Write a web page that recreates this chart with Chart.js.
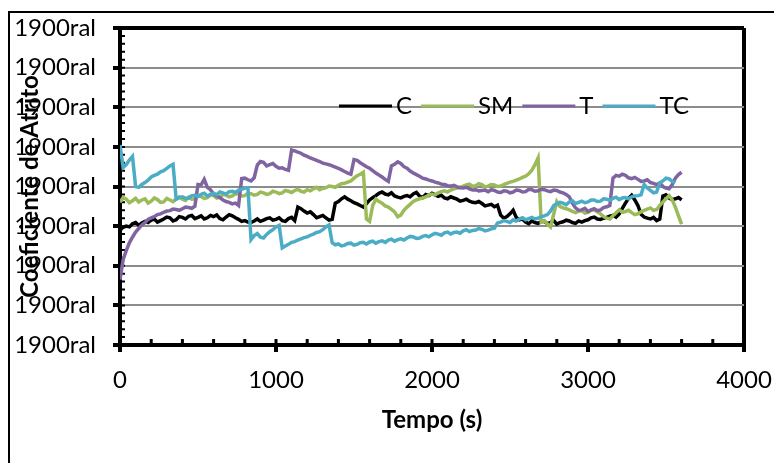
<!DOCTYPE html>
<html lang="pt">
<head>
<meta charset="UTF-8">
<title>Coeficiente de Atrito x Tempo</title>
<script src="https://cdn.jsdelivr.net/npm/chart.js"></script>
<style>
html, body { margin: 0; background: #fff; overflow: hidden; width: 774px; height: 463px; }
.moldura { position: absolute; left: 8px; top: 11px; width: 820px; height: 520px; border: 2px solid #000; box-sizing: border-box; }
#grafico { position: absolute; left: 0; top: 0; }
</style>
</head>
<body>
<div class="moldura"></div>
<canvas id="grafico" width="774" height="463"></canvas>
<script>
// tempo (s) das leituras, a cada 20 s
const tempo = [0,20,40,60,80,100,120,140,160,180,200,220,240,260,280,300,320,340,360,380,
  400,420,440,460,480,500,520,540,560,580,600,620,640,660,680,700,720,740,760,780,
  800,820,840,860,880,900,920,940,960,980,1000,1020,1040,1060,1080,1100,1120,1140,1160,1180,
  1200,1220,1240,1260,1280,1300,1320,1340,1360,1380,1400,1420,1440,1460,1480,1500,1520,1540,1560,1580,
  1600,1620,1640,1660,1680,1700,1720,1740,1760,1780,1800,1820,1840,1860,1880,1900,1920,1940,1960,1980,
  2000,2020,2040,2060,2080,2100,2120,2140,2160,2180,2200,2220,2240,2260,2280,2300,2320,2340,2360,2380,
  2400,2420,2440,2460,2480,2500,2520,2540,2560,2580,2600,2620,2640,2660,2680,2700,2720,2740,2760,2780,
  2800,2820,2840,2860,2880,2900,2920,2940,2960,2980,3000,3020,3040,3060,3080,3100,3120,3140,3160,3180,
  3200,3220,3240,3260,3280,3300,3320,3340,3360,3380,3400,3420,3440,3460,3480,3500,3520,3540,3560,3580,
  3600];

const serieC = [0.290,0.297,0.300,0.298,0.306,0.309,0.302,0.308,0.312,0.309,0.315,0.318,0.310,0.314,0.318,0.323,0.321,0.313,0.316,0.324,
  0.322,0.318,0.325,0.327,0.319,0.322,0.326,0.318,0.321,0.327,0.324,0.328,0.319,0.316,0.323,0.329,0.326,0.321,0.317,0.312,
  0.314,0.310,0.309,0.313,0.318,0.312,0.315,0.319,0.321,0.315,0.317,0.321,0.314,0.312,0.319,0.322,0.314,0.348,0.344,0.338,
  0.333,0.336,0.329,0.321,0.324,0.327,0.321,0.315,0.317,0.358,0.362,0.369,0.374,0.368,0.364,0.359,0.356,0.352,0.348,0.357,
  0.366,0.372,0.377,0.383,0.386,0.381,0.379,0.384,0.376,0.373,0.371,0.375,0.377,0.374,0.381,0.385,0.376,0.372,0.380,0.377,
  0.383,0.379,0.375,0.378,0.371,0.369,0.374,0.371,0.368,0.363,0.365,0.368,0.363,0.360,0.359,0.362,0.357,0.351,0.353,0.355,
  0.349,0.353,0.328,0.320,0.324,0.331,0.340,0.322,0.316,0.318,0.310,0.306,0.313,0.309,0.307,0.311,0.312,0.306,0.309,0.314,
  0.305,0.309,0.311,0.315,0.313,0.309,0.307,0.313,0.310,0.314,0.316,0.321,0.323,0.318,0.317,0.320,0.322,0.325,0.327,0.323,
  0.331,0.345,0.358,0.370,0.378,0.366,0.352,0.330,0.323,0.320,0.318,0.322,0.314,0.318,0.376,0.379,0.371,0.367,0.369,0.372,
  0.366];

const serieSM = [0.360,0.372,0.368,0.359,0.364,0.370,0.361,0.366,0.369,0.358,0.363,0.371,0.367,0.360,0.361,0.370,0.366,0.362,0.369,0.374,
  0.368,0.365,0.373,0.368,0.369,0.376,0.375,0.370,0.372,0.379,0.377,0.371,0.373,0.380,0.378,0.374,0.376,0.382,0.380,0.376,
  0.377,0.383,0.382,0.378,0.380,0.386,0.384,0.380,0.382,0.388,0.386,0.382,0.384,0.390,0.388,0.385,0.390,0.393,0.388,0.386,
  0.392,0.389,0.394,0.398,0.392,0.395,0.397,0.401,0.400,0.398,0.403,0.407,0.408,0.411,0.414,0.421,0.427,0.431,0.436,0.318,
  0.312,0.352,0.368,0.362,0.358,0.351,0.348,0.342,0.336,0.324,0.328,0.340,0.348,0.355,0.362,0.366,0.369,0.371,0.374,0.378,
  0.381,0.379,0.384,0.387,0.389,0.386,0.391,0.394,0.396,0.398,0.401,0.404,0.406,0.400,0.402,0.407,0.405,0.399,0.401,0.405,
  0.404,0.400,0.401,0.405,0.408,0.411,0.413,0.416,0.419,0.423,0.426,0.432,0.441,0.455,0.472,0.310,0.314,0.305,0.298,0.330,
  0.362,0.350,0.346,0.344,0.341,0.337,0.334,0.338,0.339,0.333,0.335,0.340,0.341,0.336,0.331,0.324,0.320,0.318,0.326,0.334,
  0.341,0.335,0.337,0.340,0.334,0.329,0.331,0.336,0.340,0.343,0.346,0.340,0.342,0.352,0.361,0.369,0.377,0.366,0.348,0.326,
  0.305];

const serieT = [0.165,0.215,0.238,0.258,0.272,0.285,0.294,0.303,0.309,0.317,0.321,0.324,0.329,0.331,0.335,0.338,0.339,0.343,0.342,0.340,
  0.344,0.348,0.347,0.345,0.350,0.405,0.404,0.418,0.398,0.392,0.381,0.376,0.372,0.366,0.362,0.360,0.356,0.358,0.352,0.420,
  0.421,0.417,0.414,0.422,0.454,0.463,0.461,0.452,0.455,0.458,0.451,0.446,0.447,0.443,0.441,0.492,0.490,0.487,0.484,0.479,
  0.476,0.472,0.469,0.466,0.463,0.459,0.457,0.455,0.452,0.449,0.446,0.442,0.438,0.434,0.431,0.468,0.466,0.460,0.455,0.450,
  0.446,0.440,0.434,0.429,0.424,0.418,0.413,0.452,0.456,0.462,0.458,0.450,0.446,0.439,0.434,0.430,0.426,0.421,0.419,0.416,
  0.414,0.411,0.409,0.406,0.405,0.402,0.401,0.403,0.399,0.397,0.396,0.398,0.394,0.391,0.392,0.389,0.390,0.391,0.387,0.392,
  0.390,0.386,0.385,0.389,0.388,0.384,0.386,0.391,0.390,0.386,0.387,0.393,0.392,0.388,0.389,0.393,0.392,0.389,0.387,0.391,
  0.390,0.386,0.384,0.380,0.374,0.358,0.346,0.340,0.341,0.345,0.337,0.341,0.344,0.339,0.341,0.347,0.349,0.352,0.421,0.428,
  0.426,0.431,0.428,0.422,0.420,0.423,0.418,0.413,0.414,0.417,0.410,0.408,0.405,0.409,0.400,0.396,0.394,0.405,0.421,0.430,
  0.436];

const serieTC = [0.505,0.448,0.455,0.467,0.476,0.400,0.398,0.405,0.410,0.416,0.424,0.428,0.431,0.437,0.440,0.446,0.452,0.456,0.368,0.372,
  0.374,0.370,0.371,0.377,0.378,0.375,0.380,0.383,0.376,0.380,0.383,0.379,0.386,0.384,0.381,0.387,0.388,0.385,0.391,0.393,
  0.396,0.397,0.266,0.276,0.281,0.272,0.270,0.279,0.286,0.291,0.298,0.302,0.245,0.250,0.254,0.259,0.261,0.265,0.268,0.271,
  0.273,0.277,0.280,0.284,0.286,0.291,0.298,0.303,0.258,0.253,0.255,0.250,0.252,0.256,0.257,0.252,0.254,0.258,0.259,0.255,
  0.260,0.262,0.257,0.261,0.263,0.259,0.265,0.267,0.262,0.266,0.268,0.265,0.270,0.274,0.273,0.269,0.270,0.274,0.276,0.273,
  0.278,0.282,0.280,0.277,0.283,0.285,0.280,0.284,0.285,0.282,0.288,0.291,0.286,0.289,0.290,0.294,0.292,0.288,0.290,0.293,
  0.295,0.308,0.310,0.314,0.312,0.309,0.316,0.313,0.318,0.321,0.316,0.319,0.322,0.318,0.320,0.324,0.326,0.329,0.338,0.352,
  0.356,0.360,0.358,0.354,0.361,0.364,0.357,0.360,0.363,0.359,0.361,0.366,0.366,0.362,0.363,0.369,0.368,0.365,0.370,0.373,
  0.367,0.371,0.372,0.369,0.374,0.376,0.377,0.379,0.405,0.396,0.390,0.384,0.386,0.409,0.414,0.421,0.419,0.413,0.410];

const rotuloY = '1900ral';

const series = [
  { nome: 'C', cor: '#000000', valores: serieC },
  { nome: 'SM', cor: '#9bbb59', valores: serieSM },
  { nome: 'T', cor: '#8064a2', valores: serieT },
  { nome: 'TC', cor: '#4bacc6', valores: serieTC }
];

const fonte = 'Lato, Carlito, Calibri, sans-serif';

// marcas secundarias dos eixos (lado de dentro)
const marcasMenores = {
  id: 'marcasMenores',
  beforeDatasetsDraw(chart) {
    const { ctx, chartArea: a, scales: { x, y } } = chart;
    ctx.save();
    ctx.strokeStyle = '#000';
    ctx.lineWidth = 3;
    ctx.beginPath();
    for (let v = 0; v <= 4000; v += 200) {
      const px = x.getPixelForValue(v);
      ctx.moveTo(px, a.bottom);
      ctx.lineTo(px, a.bottom - 6);
    }
    ctx.stroke();
    ctx.lineWidth = 2;
    ctx.beginPath();
    for (let k = 0; k <= 40; k++) {
      const py = y.getPixelForValue(k * 0.02);
      ctx.moveTo(a.left, py);
      ctx.lineTo(a.left + 5, py);
    }
    ctx.stroke();
    ctx.restore();
  }
};

// legenda desenhada dentro da area do grafico
const legendaInterna = {
  id: 'legendaInterna',
  afterDatasetsDraw(chart) {
    const { ctx, chartArea: a } = chart;
    const yLeg = a.top + 78;
    let xi = a.left + 219;
    ctx.save();
    ctx.font = '24px ' + fonte;
    ctx.textBaseline = 'middle';
    chart.data.datasets.forEach(ds => {
      ctx.strokeStyle = ds.borderColor;
      ctx.lineWidth = 3;
      ctx.beginPath();
      ctx.moveTo(xi, yLeg);
      ctx.lineTo(xi + 53, yLeg);
      ctx.stroke();
      ctx.fillStyle = '#000';
      ctx.fillText(ds.label, xi + 57, yLeg);
      xi += 57 + ctx.measureText(ds.label).width + 9;
    });
    ctx.restore();
  }
};

const topo = c => c.tick && Math.abs(c.tick.value - 0.8) < 1e-6;

function desenhar() {
  Chart.defaults.font.family = fonte;
  Chart.defaults.color = '#000';
  new Chart(document.getElementById('grafico'), {
    type: 'line',
    data: {
      datasets: series.map((s, i) => ({
        label: s.nome,
        data: s.valores.map((v, k) => ({ x: tempo[k], y: v })),
        borderColor: s.cor,
        backgroundColor: s.cor,
        borderWidth: 3.5,
        pointRadius: 0,
        tension: 0,
        order: series.length - i
      }))
    },
    options: {
      responsive: false,
      animation: false,
      layout: { padding: { left: 8, top: 28, right: 30, bottom: 18 } },
      plugins: { legend: { display: false }, tooltip: { enabled: false } },
      scales: {
        x: {
          type: 'linear', min: 0, max: 4000,
          ticks: { stepSize: 1000, padding: 14, maxRotation: 0, font: { size: 24 }, color: '#000', callback: v => String(v) },
          grid: {
            color: c => c.tick && c.tick.value === 4000 ? '#000' : 'rgba(0,0,0,0)',
            lineWidth: 4, tickColor: '#000', tickWidth: 4, tickLength: 7
          },
          border: { color: '#000', width: 4 },
          title: { display: true, text: 'Tempo (s)', color: '#000', font: { size: 24, weight: 'bold' }, padding: { top: 0, bottom: 10 } },
          afterFit: s => { s.height = 100; s.paddingLeft = 0; s.paddingRight = 0; }
        },
        y: {
          min: 0, max: 0.8,
          ticks: { stepSize: 0.1, padding: 17, font: { size: 24 }, color: '#000', callback: () => rotuloY },
          grid: {
            color: c => topo(c) ? '#000' : '#8c8c8c',
            lineWidth: c => topo(c) ? 4 : 2,
            tickColor: '#000', tickWidth: 4, tickLength: 7
          },
          border: { color: '#000', width: 4 },
          title: { display: true, text: 'Coeficiente de Atrito', color: '#000', font: { size: 24, weight: 'bold' }, padding: { top: 8, bottom: 0 } },
          afterFit: s => { s.width = 112; s.paddingTop = 0; s.paddingBottom = 0; }
        }
      }
    },
    plugins: [marcasMenores, legendaInterna]
  });
}

if (document.fonts && document.fonts.load) {
  Promise.all([document.fonts.load('24px Lato'), document.fonts.load('bold 24px Lato')]).then(desenhar, desenhar);
} else {
  desenhar();
}
</script>
</body>
</html>
